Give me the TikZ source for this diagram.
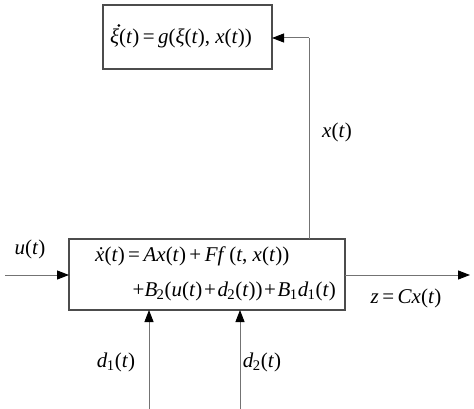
\documentclass[tikz,border=0pt]{standalone}
\usepackage{fontspec}
\setmainfont{Liberation Serif}
\usetikzlibrary{arrows.meta}
\newcommand\I[1]{\textit{#1}}
\newcommand\eqs{\,=\,}
\newcommand\pls{\,+\,}
\newcommand\tpls{\kern0.08em+\kern0.08em}
\newcommand\sub[1]{\kern-0.03em\textsubscript{#1}}
\begin{document}
\begin{tikzpicture}[x=1pt,y=-1pt,
  blk/.style={draw=black!70,line width=1.1pt,fill=none},
  sig/.style={draw=black!55,line width=1pt,-{Triangle[length=12pt,width=9pt,fill=black,color=black]}},
  wire/.style={draw=black!55,line width=1pt},
  lbl/.style={font=\fontsize{21}{23}\selectfont,inner sep=0pt}]
\useasboundingbox (0,0) rectangle (474,409);
% boxes
\draw[blk] (103,5) rectangle (272,69);
\coordinate (topE) at (272,38);
\draw[blk] (69,239) rectangle (345,310);
% texts
\node[lbl] (eqxi) at (181,38) {\I{ξ}(\I{t})\eqs\I{g}(\I{ξ}(\I{t}), \I{x}(\I{t}))};
\fill[black] ([xshift=9pt,yshift=12.5pt]eqxi.west) circle (1.4pt);
\node[lbl,anchor=west] (eq1) at (95,256) {{\itshape\.{x}}(\I{t})\eqs\I{Ax}(\I{t})\pls\I{Ff}\,(\I{t}, \I{x}(\I{t}))};
\node[lbl,anchor=east] (eq2) at (336,291) {+\I{B}\sub{2}(\I{u}(\I{t})\tpls\I{d}\sub{2}(\I{t}))\tpls\I{B}\sub{1}\I{d}\sub{1}(\I{t})};
\node[lbl] (xl) at (337,132) {\I{x}(\I{t})};
\node[lbl] (ul) at (30,249) {\I{u}(\I{t})};
\node[lbl] (zl) at (406,298) {\I{z}\eqs\I{Cx}(\I{t})};
\node[lbl] (d1l) at (116,362) {\I{d}\sub{1}(\I{t})};
\node[lbl] (d2l) at (262,362) {\I{d}\sub{2}(\I{t})};
% connectors
\coordinate (mbTop) at (309,239);
\coordinate (corner) at (309,38);
\draw[wire] (mbTop) -- (corner);
\draw[sig] (corner) -- (topE);
\coordinate (uin) at (5,275);
\coordinate (mbW) at (69,275);
\draw[sig] (uin) -- (mbW);
\coordinate (mbE) at (345,275);
\coordinate (zout) at (470,275);
\draw[sig] (mbE) -- (zout);
\coordinate (d1s) at (149,409);
\coordinate (d1e) at (149,310);
\draw[sig] (d1s) -- (d1e);
\coordinate (d2s) at (240,409);
\coordinate (d2e) at (240,310);
\draw[sig] (d2s) -- (d2e);
\end{tikzpicture}
\end{document}
